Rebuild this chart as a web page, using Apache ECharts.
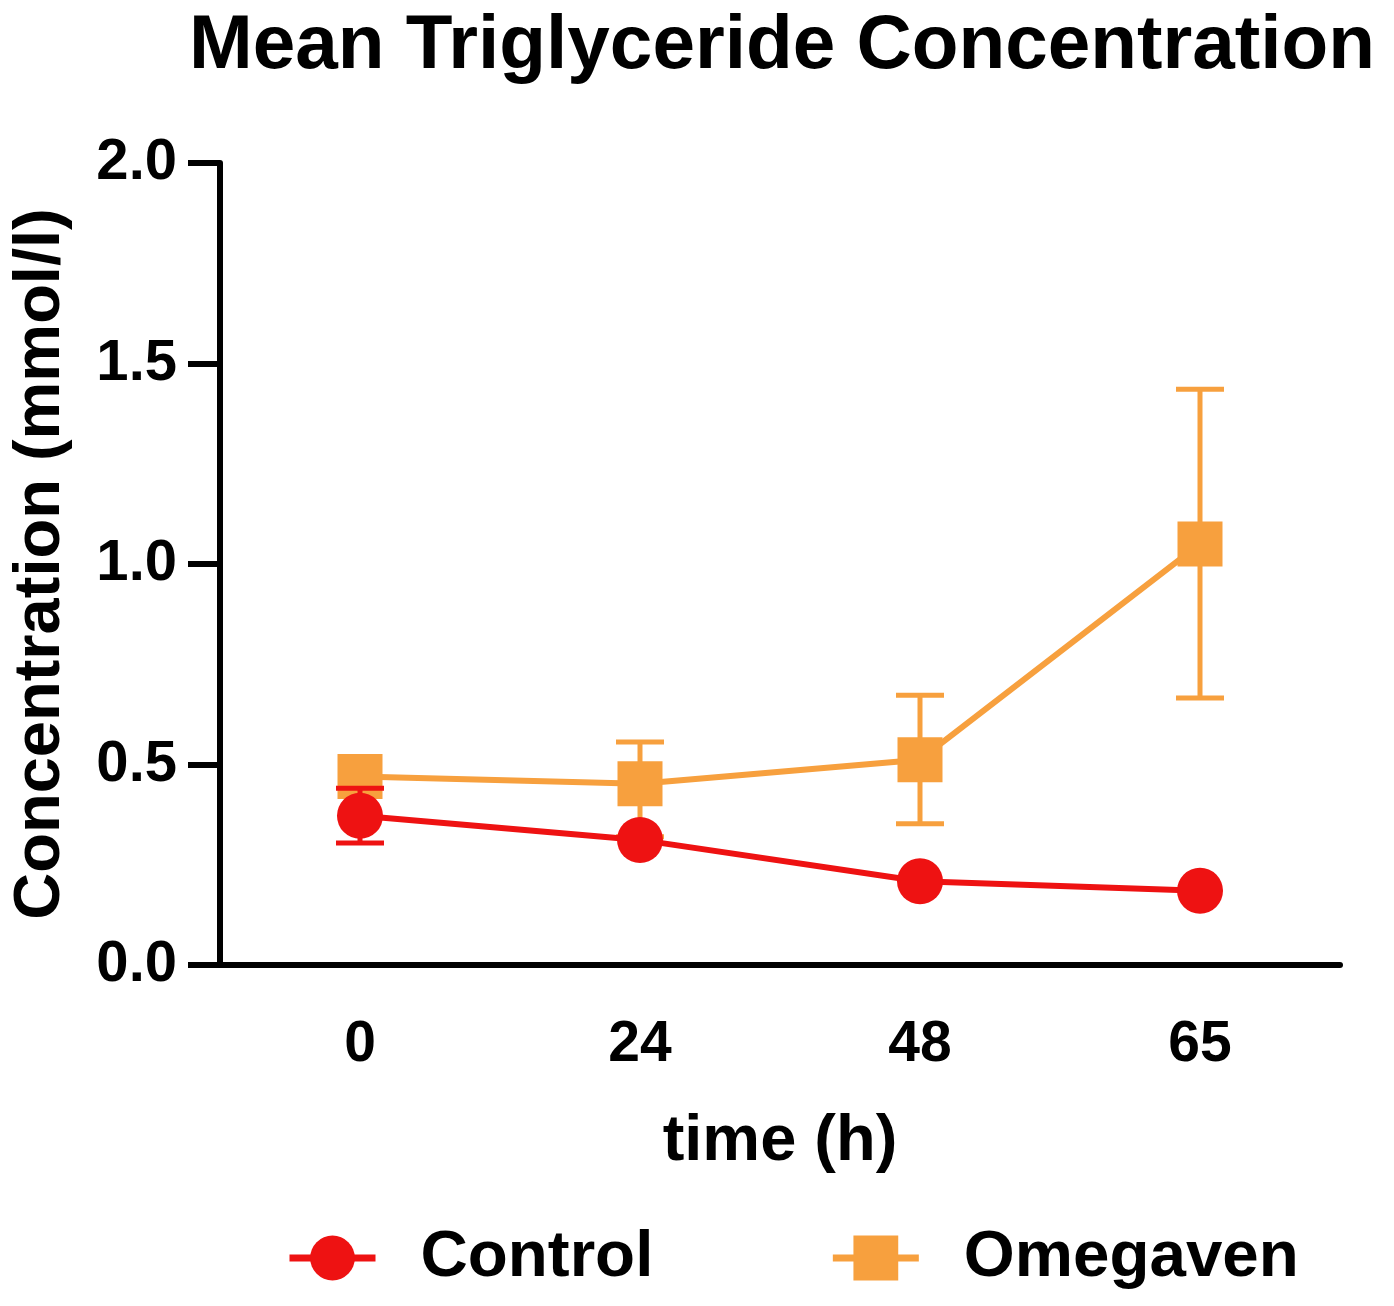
<!DOCTYPE html>
<html>
<head>
<meta charset="utf-8">
<script src="https://cdn.jsdelivr.net/npm/echarts@6/dist/echarts.min.js"></script>
<style>
html,body{margin:0;padding:0;background:#fff;}
#chart{width:1394px;height:1306px;}
</style>
</head>
<body>
<div id="chart"></div>
<script>
const categories = ['0', '24', '48', '65'];
const controlMean = [0.372, 0.312, 0.209, 0.185];
const controlLow = [0.304, 0.312, 0.209, 0.185];
const controlHigh = [0.441, 0.312, 0.209, 0.185];
const omegavenMean = [0.47, 0.452, 0.512, 1.05];
const omegavenLow = [0.47, 0.32, 0.352, 0.666];
const omegavenHigh = [0.47, 0.556, 0.673, 1.436];
const yTicks = [0, 0.5, 1.0, 1.5, 2.0];

const RED = '#EE1212';
const ORANGE = '#F7A03E';
const FONT = 'Liberation Sans';

function errData(low, high) {
  return low.map((l, i) => [i, l, high[i]]);
}
function errRender(color) {
  return function (params, api) {
    const x = api.value(0);
    if (api.value(1) === api.value(2)) return null;
    const lo = api.coord([x, api.value(1)]);
    const hi = api.coord([x, api.value(2)]);
    const hw = 24;
    const style = { stroke: color, lineWidth: 5 };
    return {
      type: 'group',
      children: [
        { type: 'line', shape: { x1: hi[0], y1: hi[1], x2: lo[0], y2: lo[1] }, style: style },
        { type: 'line', shape: { x1: hi[0] - hw, y1: hi[1], x2: hi[0] + hw, y2: hi[1] }, style: style },
        { type: 'line', shape: { x1: lo[0] - hw, y1: lo[1], x2: lo[0] + hw, y2: lo[1] }, style: style }
      ]
    };
  };
}

const chart = echarts.init(document.getElementById('chart'), null, { renderer: 'canvas' });
chart.setOption({
  backgroundColor: '#ffffff',
  animation: false,
  title: {
    text: 'Mean Triglyceride Concentration',
    left: 184,
    top: 3,
    textStyle: { fontFamily: FONT, fontWeight: 'bold', fontSize: 76.5, color: '#000' }
  },
  grid: { left: 220, right: 54, top: 163, bottom: 341, containLabel: false },
  legend: {
    data: ['Control', 'Omegaven'],
    left: 281,
    top: 1220,
    itemWidth: 86,
    itemHeight: 56,
    itemGap: 176,
    lineStyle: { width: 7 },
    textStyle: { fontFamily: FONT, fontWeight: 'bold', fontSize: 65.5, color: '#000', padding: [0, 0, 0, 40] }
  },
  xAxis: {
    type: 'category',
    data: categories,
    boundaryGap: true,
    name: 'time (h)',
    nameLocation: 'middle',
    nameGap: 145,
    nameTextStyle: { fontFamily: FONT, fontWeight: 'bold', fontSize: 65, color: '#000' },
    axisLine: { lineStyle: { color: '#000', width: 6 } },
    axisTick: { alignWithLabel: true, length: 30, lineStyle: { color: '#000', width: 6 } },
    axisLabel: { margin: 52, fontFamily: FONT, fontWeight: 'bold', fontSize: 57, color: '#000' },
    splitLine: { show: false }
  },
  yAxis: {
    type: 'value',
    min: yTicks[0],
    max: yTicks[yTicks.length - 1],
    interval: 0.5,
    name: 'Concentration (mmol/l)',
    nameLocation: 'middle',
    nameGap: 146,
    nameTextStyle: { fontFamily: FONT, fontWeight: 'bold', fontSize: 65, color: '#000' },
    axisLine: { show: true, lineStyle: { color: '#000', width: 6 } },
    axisTick: { show: true, length: 32, lineStyle: { color: '#000', width: 6 } },
    axisLabel: { margin: 43, fontFamily: FONT, fontWeight: 'bold', fontSize: 58, color: '#000',
      formatter: v => v.toFixed(1) },
    splitLine: { show: false }
  },
  series: [
    {
      name: 'Omegaven err',
      type: 'custom',
      renderItem: errRender(ORANGE),
      data: errData(omegavenLow, omegavenHigh),
      z: 2,
      silent: true
    },
    {
      name: 'Omegaven',
      type: 'line',
      data: omegavenMean,
      symbol: 'rect',
      symbolSize: 45,
      color: ORANGE,
      itemStyle: { color: ORANGE },
      lineStyle: { color: ORANGE, width: 6 },
      z: 3
    },
    {
      name: 'Control err',
      type: 'custom',
      renderItem: errRender(RED),
      data: errData(controlLow, controlHigh),
      z: 4,
      silent: true
    },
    {
      name: 'Control',
      type: 'line',
      data: controlMean,
      symbol: 'circle',
      symbolSize: 46,
      color: RED,
      itemStyle: { color: RED },
      lineStyle: { color: RED, width: 6 },
      z: 5
    }
  ]
});
</script>
</body>
</html>
